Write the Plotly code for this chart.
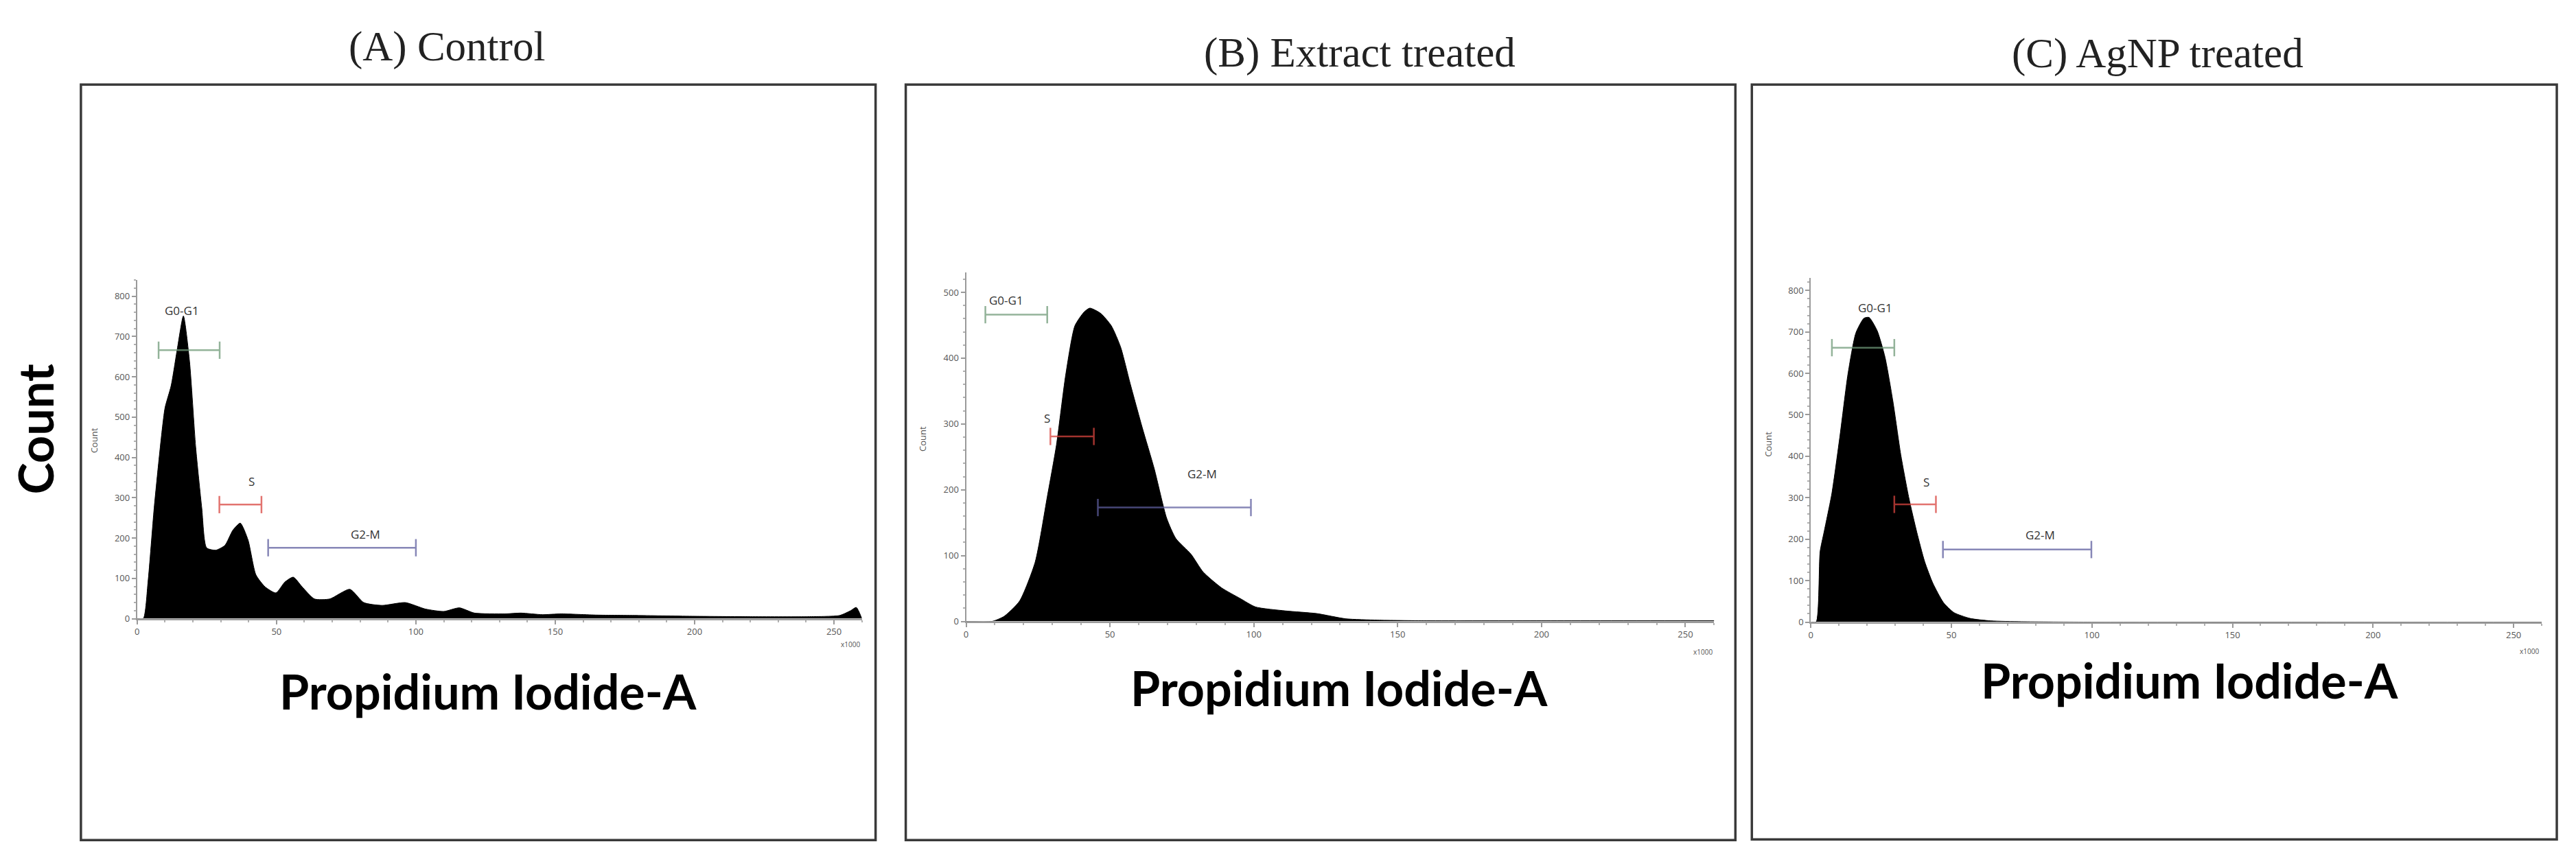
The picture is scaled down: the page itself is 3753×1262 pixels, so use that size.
import plotly.graph_objects as go

# canvas size in px
W, H = 3753, 1262

panel_titles = ["(A) Control", "(B) Extract treated", "(C) AgNP treated"]
x_title = "Propidium Iodide-A"
y_title = "Count"

# DNA content (x1000) and event counts
control_x = [0, 2.2, 3.9, 6.1, 8.3, 10, 12.2, 14.4, 16.6, 18.8, 21, 23.2, 24.9, 28.2, 31.5,
             34.3, 37, 39.8, 42.6, 45.9, 49.8, 53, 56, 59.2, 63.6, 69.1, 76.3, 81.3, 87.9,
             96.2, 103.4, 110, 115.6, 121, 132, 137.7, 145.4, 152, 165, 180, 200, 220, 240,
             252, 256, 258, 260]
control_y = [0, 0, 91, 274, 426, 523, 578, 669, 751, 638, 426, 274, 176, 170, 182,
             219, 237, 195, 109, 79, 64, 91, 103, 79, 49, 49, 73, 40, 33,
             40, 24, 18, 27, 14, 12, 14, 10, 12, 9, 8, 6, 5, 5,
             8, 20, 28, 0]

extract_x = [0, 9, 13.3, 18.6, 24, 28.2, 31.4, 34.6, 37.8, 41, 43, 46.8, 50.5, 53.7, 57,
             61.2, 65.4, 69.7, 72.9, 78.2, 82.4, 88.8, 95.2, 100.6, 111, 121.8, 132, 143,
             160, 200, 260]
extract_y = [0, 0, 8, 31, 90, 189, 268, 374, 449, 470, 476, 468, 449, 417, 362,
             295, 232, 157, 126, 102, 75, 51, 35, 22, 16, 12, 4, 2,
             1, 1, 1]

agnp_x = [0, 1.9, 3.3, 4.7, 7.5, 10.4, 13.2, 16, 18.9, 20.7, 23.6, 26.4, 29.2, 32, 34.9,
          37.7, 40.5, 43.4, 47.2, 50.9, 56.6, 64, 75, 100, 260]
agnp_y = [0, 0, 170, 217, 311, 451, 598, 697, 733, 735, 703, 639, 533, 404, 299,
          217, 146, 94, 47, 23, 9, 3, 1, 0, 0]

# cell-cycle gates: start, end, level, label anchor
gate_names = ["G0-G1", "S", "G2-M"]
control_gate_start = [7.7, 29.5, 47]
control_gate_end = [29.6, 44.6, 100]
control_gate_level = [666, 283, 176]
control_label_x = [16, 41, 82]
control_label_y = [765, 340, 210]

extract_gate_start = [6.7, 29.3, 45.8]
extract_gate_end = [28.2, 44.4, 99]
extract_gate_level = [466, 281, 173]
extract_label_x = [14, 28.2, 82]
extract_label_y = [488, 309, 224]

agnp_gate_start = [7.5, 29.7, 47]
agnp_gate_end = [29.7, 44.5, 99.8]
agnp_gate_level = [662, 284, 175]
agnp_label_x = [23, 41, 81.6]
agnp_label_y = [759, 337, 211]

x_ticks = [0, 50, 100, 150, 200, 250]
y_max = [840, 530, 830]
y_dtick = [100, 100, 100]

gate_colors = ["#6f9a78", "#d9453f", "#5f5f9f"]


def px(x):
    return x / W


def py(y):
    return 1 - y / H


fig = go.Figure()

# px layout of each panel: outer box, inner plot area
boxes = [(106, 116, 1265, 1225), (1309, 116, 2519, 1225), (2543, 116, 3717, 1224)]
plot_areas = [(188, 403, 1245, 900), (1397, 392, 2488, 904), (2629, 400, 3695, 905)]
title_pos = [(640, 60), (1971, 69), (3135, 71)]
xlab_pos = [(700, 1006), (1941, 1001), (3181, 990)]
small_count_pos = [(126, 638), (1334, 636), (2567, 644)]
x1000_pos = [(1228, 938), (2472, 949), (3677, 948)]

series = [
    (control_x, control_y, control_gate_start, control_gate_end, control_gate_level,
     control_label_x, control_label_y),
    (extract_x, extract_y, extract_gate_start, extract_gate_end, extract_gate_level,
     extract_label_x, extract_label_y),
    (agnp_x, agnp_y, agnp_gate_start, agnp_gate_end, agnp_gate_level,
     agnp_label_x, agnp_label_y),
]

annotations = []
shapes = []

for i, (hx, hy, gs, ge, gl, lx, ly) in enumerate(series):
    n = "" if i == 0 else str(i + 1)
    xa, ya = "x" + n, "y" + n

    fig.add_trace(go.Scatter(
        x=hx, y=hy, xaxis=xa, yaxis=ya, mode="lines",
        fill="tozeroy", fillcolor="black",
        line=dict(color="black", width=1, shape="spline", smoothing=0.6),
        hoverinfo="skip", showlegend=False,
    ))

    for k, name in enumerate(gate_names):
        fig.add_trace(go.Scatter(
            x=[gs[k], ge[k]], y=[gl[k], gl[k]], xaxis=xa, yaxis=ya,
            mode="lines+markers", opacity=0.75,
            line=dict(color=gate_colors[k], width=2.5),
            marker=dict(symbol="line-ns-open", size=18,
                        line=dict(color=gate_colors[k], width=2.5)),
            hoverinfo="skip", showlegend=False,
        ))
        annotations.append(dict(
            x=lx[k], y=ly[k], xref=xa, yref=ya, text=name, showarrow=False,
            font=dict(family="Open Sans", size=17, color="#333333"),
        ))

    x0, y0, x1, y1 = plot_areas[i]
    axis_common = dict(
        showline=True, linecolor="#9a9a9a", linewidth=2,
        ticks="outside", ticklen=6, tickcolor="#9a9a9a", tickwidth=1.5,
        showgrid=False, zeroline=False,
        tickfont=dict(family="Open Sans", size=13, color="#555555"),
    )
    fig.update_layout({
        "xaxis" + n: dict(
            domain=[px(x0), px(x1)], range=[0, 260], anchor=ya,
            tickvals=x_ticks,
            minor=dict(ticks="outside", ticklen=3, tickcolor="#b0b0b0", dtick=10),
            **axis_common,
        ),
        "yaxis" + n: dict(
            domain=[py(y1), py(y0)], range=[0, y_max[i]], anchor=xa,
            dtick=y_dtick[i],
            minor=dict(ticks="outside", ticklen=3, tickcolor="#b0b0b0", dtick=20),
            **axis_common,
        ),
    })

    bx0, by0, bx1, by1 = boxes[i]
    shapes.append(dict(
        type="rect", xref="paper", yref="paper",
        x0=px(bx0), x1=px(bx1), y0=py(by1), y1=py(by0),
        line=dict(color="#3a3a3a", width=3.5), layer="below",
    ))

    tx, ty = title_pos[i]
    annotations.append(dict(
        x=px(tx), y=py(ty), xref="paper", yref="paper", text=panel_titles[i],
        showarrow=False, xanchor="center", yanchor="middle",
        font=dict(family="Liberation Serif", size=61, color="#222222"),
    ))

    lx_, ly_ = xlab_pos[i]
    annotations.append(dict(
        x=px(lx_), y=py(ly_), xref="paper", yref="paper", text="<b>" + x_title + "</b>",
        showarrow=False, xanchor="center", yanchor="middle",
        font=dict(family="Lato", size=70, color="black"),
    ))

    cx, cy = small_count_pos[i]
    annotations.append(dict(
        x=px(cx), y=py(cy), xref="paper", yref="paper", text="Count",
        textangle=-90, showarrow=False, xanchor="center", yanchor="middle",
        font=dict(family="Open Sans", size=13, color="#555555"),
    ))

    mx, my = x1000_pos[i]
    annotations.append(dict(
        x=px(mx), y=py(my), xref="paper", yref="paper", text="x1000",
        showarrow=False, xanchor="center", yanchor="middle",
        font=dict(family="Open Sans", size=10, color="#555555"),
    ))

# big shared y label on the left
annotations.append(dict(
    x=px(39), y=py(622), xref="paper", yref="paper", text="<b>" + y_title + "</b>",
    textangle=-90, showarrow=False, xanchor="center", yanchor="middle",
    font=dict(family="Lato", size=70, color="black"),
))

fig.update_layout(
    width=W, height=H,
    margin=dict(l=0, r=0, t=0, b=0),
    paper_bgcolor="white", plot_bgcolor="white",
    shapes=shapes, annotations=annotations,
    showlegend=False,
)

fig.write_html("out.html")
